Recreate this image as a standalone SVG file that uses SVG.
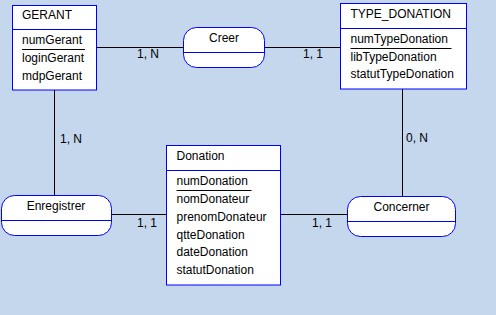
<svg xmlns="http://www.w3.org/2000/svg" width="496" height="315" viewBox="0 0 496 315">
  <style>
    text { font-family: "Liberation Sans", Arial, sans-serif; font-size: 12px; fill: #000; }
    .box { fill: #fff; stroke: #0000ff; stroke-width: 1; }
    .sep { stroke: #0000ff; stroke-width: 1; }
    .id { stroke: #000; stroke-width: 1; }
    .link { stroke: #000; stroke-width: 1; fill: none; }
    .mid { text-anchor: middle; }
  </style>
  <rect x="0" y="0" width="496" height="315" fill="#c4d7ec"/>

  <!-- connectors -->
  <g id="connectors">
    <line class="link" x1="96.5" y1="47.5" x2="183.5" y2="47.5"/>
    <line class="link" x1="264.5" y1="47.5" x2="340.5" y2="47.5"/>
    <line class="link" x1="54.5" y1="90" x2="54.5" y2="195.5"/>
    <line class="link" x1="402.5" y1="89" x2="402.5" y2="196.5"/>
    <line class="link" x1="111.5" y1="214.5" x2="166.5" y2="214.5"/>
    <line class="link" x1="280.5" y1="214.5" x2="347.5" y2="214.5"/>
    <text x="137" y="58">1, N</text>
    <text x="303" y="58">1, 1</text>
    <text x="60" y="143">1, N</text>
    <text x="406" y="142">0, N</text>
    <text x="137" y="227">1, 1</text>
    <text x="312" y="227">1, 1</text>
  </g>

  <!-- entity GERANT -->
  <g id="GERANT">
    <rect class="box" x="12.5" y="5.5" width="84" height="84.5"/>
    <line class="sep" x1="12.5" y1="29.5" x2="96.5" y2="29.5"/>
    <text x="22" y="19">GERANT</text>
    <text x="22" y="43.5">numGerant</text>
    <line class="id" x1="22" y1="49.5" x2="85" y2="49.5"/>
    <text x="22" y="62">loginGerant</text>
    <text x="22" y="80">mdpGerant</text>
  </g>

  <!-- entity TYPE_DONATION -->
  <g id="TYPE_DONATION">
    <rect class="box" x="340.5" y="3.5" width="126" height="85.5"/>
    <line class="sep" x1="340.5" y1="28.5" x2="466.5" y2="28.5"/>
    <text x="350.5" y="17.5">TYPE_DONATION</text>
    <text x="350.5" y="42.5">numTypeDonation</text>
    <line class="id" x1="350.5" y1="48.5" x2="451.5" y2="48.5"/>
    <text x="350.5" y="60.5">libTypeDonation</text>
    <text x="350.5" y="78">statutTypeDonation</text>
  </g>

  <!-- entity Donation -->
  <g id="Donation">
    <rect class="box" x="166.5" y="145.5" width="114" height="139.5"/>
    <line class="sep" x1="166.5" y1="170.5" x2="280.5" y2="170.5"/>
    <text x="176.5" y="160">Donation</text>
    <text x="176.5" y="184.5">numDonation</text>
    <line class="id" x1="176.5" y1="190.5" x2="251.5" y2="190.5"/>
    <text x="176.5" y="203">nomDonateur</text>
    <text x="176.5" y="221">prenomDonateur</text>
    <text x="176.5" y="239">qtteDonation</text>
    <text x="176.5" y="256">dateDonation</text>
    <text x="176.5" y="274">statutDonation</text>
  </g>

  <!-- association Creer -->
  <g id="Creer">
    <rect class="box" x="183.5" y="27.5" width="81" height="40" rx="13" ry="13"/>
    <line class="sep" x1="183.5" y1="52.5" x2="264.5" y2="52.5"/>
    <text class="mid" x="224" y="42">Creer</text>
  </g>

  <!-- association Enregistrer -->
  <g id="Enregistrer">
    <rect class="box" x="1.5" y="195.5" width="110" height="40" rx="13" ry="13"/>
    <line class="sep" x1="1.5" y1="220.5" x2="111.5" y2="220.5"/>
    <text class="mid" x="56" y="209.5">Enregistrer</text>
  </g>

  <!-- association Concerner -->
  <g id="Concerner">
    <rect class="box" x="347.5" y="196.5" width="108" height="40" rx="13" ry="13"/>
    <line class="sep" x1="347.5" y1="221.5" x2="455.5" y2="221.5"/>
    <text class="mid" x="401.5" y="210.5">Concerner</text>
  </g>
</svg>
